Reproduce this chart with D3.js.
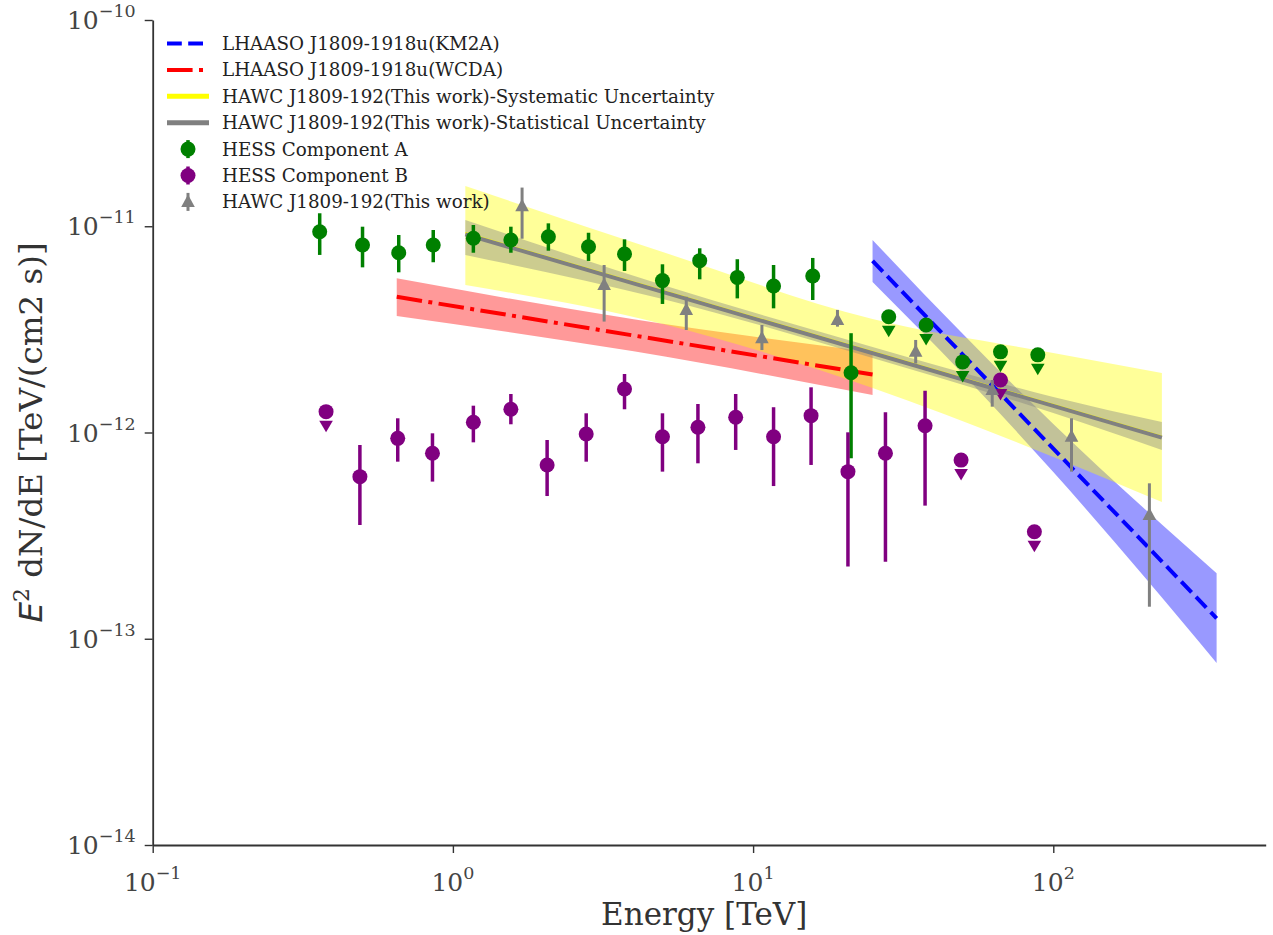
<!DOCTYPE html>
<html><head><meta charset="utf-8">
<script src="https://cdn.jsdelivr.net/npm/d3@7"></script>
<style>body{margin:0;background:#fff}svg{display:block}</style>
</head><body>
<svg id="chart" width="1273" height="935"></svg>
<script>
// ---------------- DATA ----------------
// HESS Component A (points with errors)
const hessA_E  = [0.36,0.50,0.66,0.86,1.17,1.56,2.08,2.83,3.73,4.99,6.64,8.86,11.7,15.8,21.2];
const hessA_F  = [9.41e-12,8.11e-12,7.44e-12,8.11e-12,8.74e-12,8.58e-12,8.90e-12,7.96e-12,7.34e-12,5.45e-12,6.81e-12,5.65e-12,5.13e-12,5.74e-12,1.95e-12];
const hessA_hi = [1.156e-11,9.95e-12,9.07e-12,9.59e-12,1.014e-11,9.95e-12,1.033e-11,9.30e-12,8.64e-12,6.54e-12,7.82e-12,6.92e-12,6.49e-12,7.02e-12,3.03e-12];
const hessA_lo = [7.26e-12,6.32e-12,5.98e-12,6.69e-12,7.44e-12,7.44e-12,7.61e-12,6.79e-12,6.07e-12,4.20e-12,5.53e-12,4.47e-12,4.00e-12,4.39e-12,7.50e-13];
// HESS Component A upper limits
const hessA_ulE = [28.3,37.7,49.9,66.7,88.8];
const hessA_ulF = [3.64e-12,3.32e-12,2.20e-12,2.46e-12,2.38e-12];

// HESS Component B (points with errors)
const hessB_E  = [0.49,0.655,0.855,1.17,1.56,2.06,2.78,3.73,4.99,6.55,8.75,11.7,15.6,20.7,27.6,37.4];
const hessB_F  = [6.11e-13,9.37e-13,7.93e-13,1.121e-12,1.296e-12,6.96e-13,9.83e-13,1.625e-12,9.54e-13,1.060e-12,1.185e-12,9.54e-13,1.207e-12,6.46e-13,7.93e-13,1.079e-12];
const hessB_hi = [8.70e-13,1.172e-12,9.91e-13,1.349e-12,1.537e-12,9.20e-13,1.239e-12,1.921e-12,1.239e-12,1.375e-12,1.537e-12,1.326e-12,1.656e-12,1.002e-12,1.253e-12,1.594e-12];
const hessB_lo = [3.56e-13,7.22e-13,5.78e-13,8.96e-13,1.096e-12,4.92e-13,7.22e-13,1.296e-12,6.46e-13,7.09e-13,8.23e-13,5.50e-13,6.96e-13,2.24e-13,2.36e-13,4.42e-13];
// HESS Component B upper limits
const hessB_ulE = [0.378,49.3,66.7,86.5];
const hessB_ulF = [1.262e-12,7.35e-13,1.797e-12,3.30e-13];

// HAWC J1809-192 (This work) flux points
const hawc_E  = [1.70,3.19,5.99,10.7,19.1,34.8,62.6,115,209];
const hawc_F  = [1.25e-11,5.19e-12,3.93e-12,2.86e-12,3.51e-12,2.46e-12,1.607e-12,9.54e-13,3.98e-13];
const hawc_hi = [1.54e-11,6.49e-12,4.55e-12,3.32e-12,3.93e-12,2.81e-12,1.797e-12,1.172e-12,5.67e-13];
const hawc_lo = [8.7e-12,3.45e-12,3.14e-12,2.51e-12,3.26e-12,2.16e-12,1.334e-12,6.46e-13,1.43e-13];

// LHAASO KM2A spectrum + band
const km2a_E = [25, 350];
const km2a_F = [6.79e-12, 1.256e-13];
const km2aBand_E  = [25, 50, 100, 200, 350];
const km2aBand_hi = [8.58e-12, 3.00e-12, 1.100e-12, 4.30e-13, 2.08e-13];
const km2aBand_lo = [5.37e-12, 1.921e-12, 6.43e-13, 2.015e-13, 7.63e-14];

// LHAASO WCDA spectrum + band
const wcda_E = [0.65, 25];
const wcda_F = [4.55e-12, 1.91e-12];
const wcdaBand_E  = [0.65, 4, 25];
const wcdaBand_hi = [5.59e-12, 3.54e-12, 2.45e-12];
const wcdaBand_lo = [3.67e-12, 2.475e-12, 1.52e-12];

// HAWC fit (statistical / systematic)
const hawcFit_E = [1.1, 230];
const hawcFit_F = [9.14e-12, 9.45e-13];
const hawcSys_F = [9.30e-12, 9.60e-13];
const sysBand_E  = [1.1, 5, 25, 100, 230];
const sysBand_hi = [1.567e-11, 7.50e-12, 3.55e-12, 2.43e-12, 1.943e-12];
const sysBand_lo = [5.19e-12, 3.36e-12, 1.643e-12, 7.61e-13, 4.60e-13];
const statBand_E  = [1.1, 5, 25, 100, 230];
const statBand_hi = [1.072e-11, 5.19e-12, 2.60e-12, 1.487e-12, 1.124e-12];
const statBand_lo = [7.26e-12, 4.44e-12, 2.30e-12, 1.243e-12, 8.23e-13];

// Axis ticks
const xMajor = [0.1, 1, 10, 100];
const xMajorExp = ["−1", "0", "1", "2"];
const yMajor = [1e-14, 1e-13, 1e-12, 1e-11, 1e-10];
const yMajorExp = ["−14", "−13", "−12", "−11", "−10"];

const legendLabels = [
  "LHAASO J1809-1918u(KM2A)",
  "LHAASO J1809-1918u(WCDA)",
  "HAWC J1809-192(This work)-Systematic Uncertainty",
  "HAWC J1809-192(This work)-Statistical Uncertainty",
  "HESS Component A",
  "HESS Component B",
  "HAWC J1809-192(This work)"
];

// ---------------- DRAW ----------------
const svg = d3.select("#chart");
const L = 152.7, R = 1265.7, T = 20, B = 845;
const x = d3.scaleLog().domain([0.1, 510]).range([L, R]);
const y = d3.scaleLog().domain([1e-14, 1e-10]).range([B, T]);
const serif = "'DejaVu Serif', serif";

const zip3 = (a,b,c) => a.map((v,i)=>[v,b[i],c[i]]);
const zip2 = (a,b) => a.map((v,i)=>[v,b[i]]);
const area = d3.area().x(d=>x(d[0])).y0(d=>y(d[1])).y1(d=>y(d[2])).curve(d3.curveMonotoneX);
const line = d3.line().x(d=>x(d[0])).y(d=>y(d[1]));

const plot = svg.append("g");
// bands
plot.append("path").datum(zip3(wcdaBand_E, wcdaBand_lo, wcdaBand_hi)).attr("d", area).attr("fill", "red").attr("fill-opacity", 0.4);
plot.append("path").datum(zip3(km2aBand_E, km2aBand_lo, km2aBand_hi)).attr("d", area).attr("fill", "blue").attr("fill-opacity", 0.4);
plot.append("path").datum(zip3(sysBand_E, sysBand_lo, sysBand_hi)).attr("d", area).attr("fill", "yellow").attr("fill-opacity", 0.4);
plot.append("path").datum(zip3(statBand_E, statBand_lo, statBand_hi)).attr("d", area).attr("fill", "gray").attr("fill-opacity", 0.4);
// lines
plot.append("path").datum(zip2(hawcFit_E, hawcSys_F)).attr("d", line).attr("fill","none").attr("stroke","yellow").attr("stroke-width",1.5);
plot.append("path").datum(zip2(hawcFit_E, hawcFit_F)).attr("d", line).attr("fill","none").attr("stroke","gray").attr("stroke-width",4);
plot.append("path").datum(zip2(wcda_E, wcda_F)).attr("d", line).attr("fill","none").attr("stroke","red").attr("stroke-width",4).attr("stroke-dasharray","25.6,6.4,4,6.4");
plot.append("path").datum(zip2(km2a_E, km2a_F)).attr("d", line).attr("fill","none").attr("stroke","blue").attr("stroke-width",4).attr("stroke-dasharray","14.8,6.4");

// point helpers
function errPoints(E, F, lo, hi, color, lw, marker) {
  const g = plot.append("g");
  E.forEach((e,i)=>{
    g.append("line").attr("x1",x(e)).attr("x2",x(e)).attr("y1",y(lo[i])).attr("y2",y(hi[i]))
      .attr("stroke",color).attr("stroke-width",lw);
  });
  E.forEach((e,i)=>{
    const cx = x(e), cy = y(F[i]);
    if (marker === "circle") g.append("circle").attr("cx",cx).attr("cy",cy).attr("r",7.5).attr("fill",color);
    else g.append("path").attr("d",`M${cx},${cy-7.5}L${cx+6.8},${cy+5}L${cx-6.8},${cy+5}Z`).attr("fill",color);
  });
}
function ulPoints(E, F, color) {
  const g = plot.append("g");
  E.forEach((e,i)=>{
    const cx = x(e), cy = y(F[i]);
    g.append("path").attr("d",`M${cx-6.8},${cy+9}L${cx+6.8},${cy+9}L${cx},${cy+20.5}Z`).attr("fill",color);
    g.append("circle").attr("cx",cx).attr("cy",cy).attr("r",7.5).attr("fill",color);
  });
}
errPoints(hessA_E, hessA_F, hessA_lo, hessA_hi, "green", 3.5, "circle");
ulPoints(hessA_ulE, hessA_ulF, "green");
errPoints(hessB_E, hessB_F, hessB_lo, hessB_hi, "purple", 3.5, "circle");
ulPoints(hessB_ulE, hessB_ulF, "purple");
errPoints(hawc_E, hawc_F, hawc_lo, hawc_hi, "gray", 3, "tri");

// ---------------- AXES ----------------
const axCol = "#333";
function xMinorVals() {
  const v = [];
  [0.1,1,10,100].forEach(d=>{ for (let k=2;k<=9;k++){ const t=d*k; if (t<=510) v.push(t);} });
  return v;
}
function yMinorVals() {
  const v = [];
  [1e-14,1e-13,1e-12,1e-11].forEach(d=>{ for (let k=2;k<=9;k++) v.push(d*k); });
  return v;
}
const gx = svg.append("g").attr("transform",`translate(0,${B})`);
gx.call(d3.axisBottom(x).tickValues(xMinorVals()).tickSize(4.5).tickSizeOuter(0).tickFormat(""));
gx.call(d3.axisBottom(x).tickValues(xMajor).tickSize(8).tickSizeOuter(0).tickFormat(""));
const gy = svg.append("g").attr("transform",`translate(${L},0)`);
gy.call(d3.axisLeft(y).tickValues(yMinorVals()).tickSize(4.5).tickSizeOuter(0).tickFormat(""));
gy.call(d3.axisLeft(y).tickValues(yMajor).tickSize(8).tickSizeOuter(0).tickFormat(""));
svg.selectAll(".domain").attr("stroke",axCol).attr("stroke-width",1.8);
svg.selectAll(".tick line").attr("stroke",axCol).attr("stroke-width",1.4);

// tick labels
const tickCol = "#444";
xMajor.forEach((v,i)=>{
  const t = svg.append("text").attr("x", x(v)).attr("y", B+46).attr("text-anchor","middle")
    .attr("font-family", serif).attr("font-size", 25).attr("fill", tickCol);
  t.append("tspan").text("10");
  t.append("tspan").attr("dy",-12).attr("font-size",17.5).text(xMajorExp[i]);
});
yMajor.forEach((v,i)=>{
  const t = svg.append("text").attr("x", L-17).attr("y", y(v)+9).attr("text-anchor","end")
    .attr("font-family", serif).attr("font-size", 25).attr("fill", tickCol);
  t.append("tspan").text("10");
  t.append("tspan").attr("dy",-12).attr("font-size",17.5).text(yMajorExp[i]);
});

// axis labels
svg.append("text").attr("x", (L+R)/2 - 5).attr("y", 925).attr("text-anchor","middle")
  .attr("font-family", serif).attr("font-size", 31).attr("fill", "#333").text("Energy [TeV]");
const yl = svg.append("text").attr("transform",`translate(42,${(T+B)/2}) rotate(-90)`).attr("text-anchor","middle")
  .attr("font-family", serif).attr("font-size", 32.5).attr("fill", "#333");
yl.append("tspan").attr("font-family","'DejaVu Sans', sans-serif").attr("font-style","italic").text("E");
yl.append("tspan").attr("dy",-13).attr("font-size",22).text("2");
yl.append("tspan").attr("dy",13).text(" dN/dE [TeV/(cm2 s)]");

// ---------------- LEGEND ----------------
const lg = svg.append("g");
const hx0 = 167, hx1 = 209, hxc = 188, tx = 222;
legendLabels.forEach((lab,i)=>{
  const cy = 43.5 + i*26.4;
  if (i===0) lg.append("line").attr("x1",hx0).attr("x2",hx1).attr("y1",cy).attr("y2",cy).attr("stroke","blue").attr("stroke-width",4).attr("stroke-dasharray","14.8,6.4");
  if (i===1) lg.append("line").attr("x1",hx0).attr("x2",hx1).attr("y1",cy).attr("y2",cy).attr("stroke","red").attr("stroke-width",4).attr("stroke-dasharray","25.6,6.4,4,6.4");
  if (i===2) lg.append("line").attr("x1",hx0).attr("x2",hx1).attr("y1",cy).attr("y2",cy).attr("stroke","yellow").attr("stroke-width",5);
  if (i===3) lg.append("line").attr("x1",hx0).attr("x2",hx1).attr("y1",cy).attr("y2",cy).attr("stroke","gray").attr("stroke-width",5);
  if (i===4 || i===5) {
    const c = i===4 ? "green" : "purple";
    lg.append("line").attr("x1",hxc).attr("x2",hxc).attr("y1",cy-9).attr("y2",cy+9).attr("stroke",c).attr("stroke-width",3.5);
    lg.append("circle").attr("cx",hxc).attr("cy",cy).attr("r",7.5).attr("fill",c);
  }
  if (i===6) {
    lg.append("line").attr("x1",hxc).attr("x2",hxc).attr("y1",cy-9).attr("y2",cy+9).attr("stroke","gray").attr("stroke-width",3);
    lg.append("path").attr("d",`M${hxc},${cy-7.5}L${hxc+6.8},${cy+5}L${hxc-6.8},${cy+5}Z`).attr("fill","gray");
  }
  lg.append("text").attr("x",tx).attr("y",cy).attr("dy","0.35em").attr("font-family",serif)
    .attr("font-size",18.3).attr("fill","#222").text(lab);
});
</script>
</body></html>
